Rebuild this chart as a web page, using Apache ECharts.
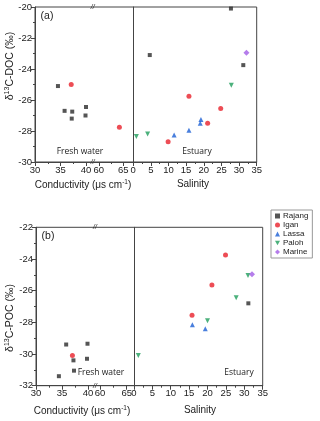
<!DOCTYPE html>
<html>
<head>
<meta charset="utf-8">
<script src="https://cdn.jsdelivr.net/npm/echarts@6/dist/echarts.min.js"></script>
<style>
  html, body { margin: 0; padding: 0; background: #fff; }
  #chart { width: 320px; height: 421px; }
</style>
</head>
<body>
<div id="chart"></div>
<script>
const stations = ['Rajang', 'Igan', 'Lassa', 'Paloh', 'Marine'];

// (a) d13C-DOC. fresh water points are [conductivity, d13C], estuary points [salinity, d13C]
const docFreshRajang = [[34.5, -25.1], [35.8, -26.7], [37.3, -26.75], [37.2, -27.2], [40.0, -26.45], [39.9, -27.0]];
const docFreshIgan = [[37.1, -25.0], [64.2, -27.75]];
const docEstRajang = [[4.7, -23.1], [27.7, -20.1], [31.2, -23.75]];
const docEstIgan = [[9.9, -28.7], [15.8, -25.75], [21.1, -27.5], [24.8, -26.55]];
const docEstLassa = [[11.6, -28.25], [15.8, -27.95], [19.0, -27.5], [19.2, -27.25]];
const docEstPaloh = [[0.9, -28.35], [4.1, -28.2], [27.8, -25.05]];
const docEstMarine = [[32.1, -22.95]];

// (b) d13C-POC
const pocFreshRajang = [[35.8, -29.4], [39.9, -29.35], [37.2, -30.4], [39.8, -30.3], [34.4, -31.4], [37.3, -31.05]];
const pocFreshIgan = [[37.0, -30.1]];
const pocEstRajang = [[31.1, -26.8]];
const pocEstIgan = [[15.8, -27.55], [21.2, -25.65], [24.9, -23.75]];
const pocEstLassa = [[15.9, -28.15], [19.4, -28.4]];
const pocEstPaloh = [[1.2, -30.1], [20.0, -27.9], [27.8, -26.45], [31.0, -25.05]];
const pocEstMarine = [[32.1, -24.97]];

// tick values
const condTicksLow = [30, 35, 40];
const condMinorLow = [32.5, 37.5];
const condTicksHigh = [60, 65];
const condMinorHigh = [62.5];
const salTicks = [0, 5, 10, 15, 20, 25, 30, 35];
const salMinor = [2.5, 7.5, 12.5, 17.5, 22.5, 27.5, 32.5];

const colors = ['#2b2b2b', '#e8212b', '#1c5fd4', '#1f9d5b', '#a35ce6'];
const symbols = ['rect', 'circle', 'triangle', 'path://M0,0L10,0L5,9Z', 'diamond'];
const symbolSizes = [4, 5, 5, 5, 6];
const font = 'Liberation Sans, Arial, sans-serif';

// layout of the two panels (pixel positions of the broken axes)
const panels = [
  {
    top: 7, height: 155, x0: 35, xBreak: 98, xDiv: 123.3, x1: 256.7,
    condMax: 42.35, condMin2: 59.84, salMin: -2.8, yMin: -30, yMax: -20,
    label: '(a)', yName: 'C-DOC (‰)', yNameY: 66, breakX: 92.7, textY: 152,
    fresh: [docFreshRajang, docFreshIgan, [], [], []],
    estuary: [docEstRajang, docEstIgan, docEstLassa, docEstPaloh, docEstMarine],
    freshX: 80, estX: 197, condTitle: [83, 185], salTitle: [193, 184]
  },
  {
    top: 227.3, height: 158.4, x0: 36, xBreak: 94, xDiv: 126.7, x1: 262.7,
    condMax: 41.15, condMin2: 58.88, salMin: -1.95, yMin: -32, yMax: -22,
    label: '(b)', yName: 'C-POC (‰)', yNameY: 318, breakX: 95, textY: 373,
    fresh: [pocFreshRajang, pocFreshIgan, [], [], []],
    estuary: [pocEstRajang, pocEstIgan, pocEstLassa, pocEstPaloh, pocEstMarine],
    freshX: 101, estX: 239, condTitle: [82, 411], salTitle: [200, 410]
  }
];

const grid = [], xAxis = [], yAxis = [], series = [], graphic = [];

function addText(x, y, text, size, extra) {
  graphic.push(Object.assign({
    type: 'text', x: x, y: y, silent: true,
    style: Object.assign({
      text: text, fontSize: size, fontFamily: font, fill: '#222',
      align: 'center', verticalAlign: 'middle'
    }, extra && extra.style)
  }, extra && extra.el));
}

panels.forEach(p => {
  const segs = [
    {left: p.x0, right: p.xBreak, min: 30, max: p.condMax, major: condTicksLow, minor: condMinorLow},
    {left: p.xBreak, right: p.xDiv, min: p.condMin2, max: 65, major: condTicksHigh, minor: condMinorHigh},
    {left: p.xDiv, right: p.x1, min: p.salMin, max: 35, major: salTicks, minor: salMinor}
  ];
  const axisIdx = [];
  segs.forEach((s, k) => {
    const g = grid.length;
    grid.push({left: s.left, top: p.top, width: s.right - s.left, height: p.height});
    axisIdx.push({x: xAxis.length, y: yAxis.length});
    xAxis.push({
      type: 'value', gridIndex: g, min: s.min, max: s.max, position: 'bottom',
      axisLine: {show: true, lineStyle: {color: '#444'}},
      axisTick: {show: true, length: 4, customValues: s.major, lineStyle: {color: '#444'}},
      axisLabel: {show: true, customValues: s.major, fontSize: 9.5, color: '#222', margin: 3, fontFamily: font},
      splitLine: {show: false}
    });
    xAxis.push({
      type: 'value', gridIndex: g, min: s.min, max: s.max, position: 'bottom',
      axisLine: {show: false},
      axisTick: {show: true, length: 2, customValues: s.minor, lineStyle: {color: '#444'}},
      axisLabel: {show: false},
      splitLine: {show: false}
    });
    yAxis.push({
      type: 'value', gridIndex: g, min: p.yMin, max: p.yMax, interval: 2,
      show: k !== 1,
      axisLine: {show: true, lineStyle: {color: '#444'}},
      axisTick: {show: k === 0, length: 4, lineStyle: {color: '#444'}},
      minorTick: {show: k === 0, splitNumber: 2, length: 2, lineStyle: {color: '#444'}},
      axisLabel: {show: k === 0, fontSize: 9.5, color: '#222', margin: 3, fontFamily: font},
      splitLine: {show: false}
    });
  });
  // outer frame
  const gf = grid.length;
  grid.push({left: p.x0, top: p.top, width: p.x1 - p.x0, height: p.height,
    show: true, borderColor: '#444', borderWidth: 1, backgroundColor: 'transparent'});
  xAxis.push({type: 'value', gridIndex: gf, show: false});
  yAxis.push({type: 'value', gridIndex: gf, show: false});

  stations.forEach((name, i) => {
    const base = {
      type: 'scatter', name: name, symbol: symbols[i], symbolSize: symbolSizes[i],
      itemStyle: {color: colors[i]}, clip: false, z: 5
    };
    const low = p.fresh[i].filter(d => d[0] < 50);
    const high = p.fresh[i].filter(d => d[0] >= 50);
    if (low.length) series.push(Object.assign({}, base, {xAxisIndex: axisIdx[0].x, yAxisIndex: axisIdx[0].y, data: low}));
    if (high.length) series.push(Object.assign({}, base, {xAxisIndex: axisIdx[1].x, yAxisIndex: axisIdx[1].y, data: high}));
    if (p.estuary[i].length) series.push(Object.assign({}, base, {xAxisIndex: axisIdx[2].x, yAxisIndex: axisIdx[2].y, data: p.estuary[i]}));
  });

  addText(p.x0 + 12, p.top + 9, p.label, 10.5);
  addText(p.freshX, p.textY, 'Fresh water', 8.5, {style: {fontFamily: 'Open Sans'}});
  addText(p.estX, p.textY, 'Estuary', 8.5, {style: {fontFamily: 'Open Sans'}});
  addText(p.breakX, p.top, '//', 7, {style: {fontStyle: 'italic'}});
  addText(p.breakX, p.top + p.height, '//', 7, {style: {fontStyle: 'italic'}});
  addText(p.condTitle[0], p.condTitle[1], '{a|Conductivity (μs cm}{s|-1}{a|)}', 10, {style: {
    rich: {a: {fontSize: 10, fontFamily: font, fill: '#222', lineHeight: 12},
           s: {fontSize: 6.5, fontFamily: font, fill: '#222', lineHeight: 12, verticalAlign: 'top'}}
  }});
  addText(p.salTitle[0], p.salTitle[1], 'Salinity', 10);
  addText(10, p.yNameY, '{a|δ}{s|13}{a|' + p.yName + '}', 10.5, {
    el: {rotation: Math.PI / 2},
    style: {rich: {a: {fontSize: 10.5, fontFamily: font, fill: '#222', lineHeight: 13},
                   s: {fontSize: 7, fontFamily: font, fill: '#222', lineHeight: 13, verticalAlign: 'top'}}}
  });
});

const chart = echarts.init(document.getElementById('chart'), null, {renderer: 'canvas'});
chart.setOption({
  animation: false,
  textStyle: {fontFamily: font},
  grid: grid,
  xAxis: xAxis,
  yAxis: yAxis,
  series: series,
  graphic: graphic,
  legend: {
    data: stations, orient: 'vertical', left: 271, top: 210,
    itemWidth: 5, itemHeight: 5, itemGap: 1, selectedMode: false,
    padding: [2, 4, 2, 4], borderColor: '#999', borderWidth: 1,
    textStyle: {fontSize: 8, color: '#222', fontFamily: font, padding: [0, 0, 0, -2]}
  }
});
</script>
</body>
</html>
